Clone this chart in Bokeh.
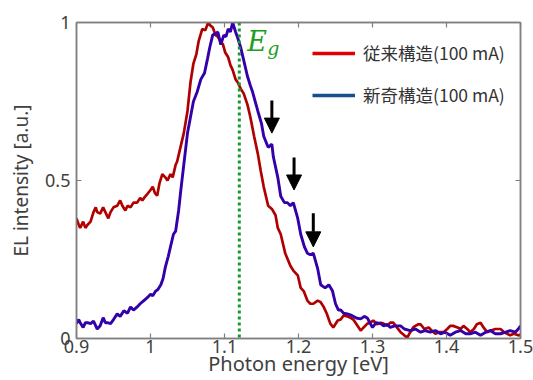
from bokeh.plotting import figure
from bokeh.models import (Range1d, LinearAxis, Span, Label, Arrow, NormalHead,
                          Legend, LegendItem, FixedTicker)
from bokeh.embed import file_html
from bokeh.resources import INLINE

# ---------------- data ----------------
red_energy = [
    0.900, 0.903, 0.905, 0.909, 0.912, 0.915, 0.919, 0.923, 0.926, 0.928,
    0.932, 0.936, 0.939, 0.943, 0.946, 0.950, 0.955, 0.959, 0.962, 0.966,
    0.969, 0.973, 0.977, 0.982, 0.986, 0.989, 0.993, 0.996, 1.000, 1.003,
    1.006, 1.009, 1.012, 1.016, 1.020, 1.023, 1.027, 1.030, 1.034, 1.036,
    1.040, 1.045, 1.050, 1.054, 1.058, 1.062, 1.065, 1.070, 1.074, 1.078,
    1.081, 1.084, 1.088, 1.091, 1.095, 1.098, 1.101, 1.105, 1.108, 1.111,
    1.115, 1.118, 1.122, 1.126, 1.131, 1.135, 1.140, 1.145, 1.149, 1.153,
    1.159, 1.164, 1.169, 1.172, 1.176, 1.182, 1.189, 1.193, 1.199, 1.203,
    1.207, 1.212, 1.216, 1.220, 1.226, 1.230, 1.234, 1.238, 1.243, 1.247,
    1.253, 1.257, 1.261, 1.266, 1.270, 1.274, 1.277, 1.284, 1.288, 1.293,
    1.297, 1.301, 1.306, 1.311, 1.315, 1.320, 1.324, 1.328, 1.333, 1.338,
    1.343, 1.347, 1.351, 1.355, 1.358, 1.362, 1.365, 1.370, 1.376, 1.380,
    1.385, 1.390, 1.396, 1.401, 1.405, 1.409, 1.415, 1.419, 1.423, 1.428,
    1.432, 1.437, 1.441, 1.446, 1.450, 1.455, 1.460, 1.466, 1.473, 1.478,
    1.482, 1.486, 1.491, 1.497, 1.500,
]
red_intensity = [
    0.380, 0.360, 0.350, 0.370, 0.350, 0.360, 0.370, 0.400, 0.415, 0.400,
    0.395, 0.415, 0.400, 0.380, 0.400, 0.415, 0.420, 0.437, 0.420, 0.405,
    0.420, 0.415, 0.430, 0.430, 0.445, 0.437, 0.450, 0.458, 0.470, 0.480,
    0.460, 0.452, 0.490, 0.520, 0.510, 0.500, 0.520, 0.510, 0.550, 0.560,
    0.600, 0.650, 0.720, 0.810, 0.870, 0.900, 0.940, 0.980, 0.975, 1.000,
    0.990, 0.985, 0.960, 0.955, 0.940, 0.930, 0.905, 0.890, 0.865, 0.850,
    0.820, 0.810, 0.790, 0.775, 0.740, 0.700, 0.640, 0.585, 0.530, 0.480,
    0.420, 0.410, 0.390, 0.350, 0.330, 0.270, 0.230, 0.215, 0.200, 0.160,
    0.150, 0.120, 0.110, 0.110, 0.120, 0.115, 0.100, 0.080, 0.047, 0.035,
    0.057, 0.060, 0.073, 0.070, 0.066, 0.060, 0.050, 0.025, 0.035, 0.047,
    0.050, 0.057, 0.045, 0.050, 0.047, 0.040, 0.050, 0.050, 0.035, 0.020,
    0.010, 0.003, 0.020, 0.035, 0.040, 0.045, 0.045, 0.030, 0.035, 0.025,
    0.015, 0.020, 0.020, 0.030, 0.040, 0.040, 0.035, 0.030, 0.040, 0.030,
    0.020, 0.030, 0.045, 0.050, 0.035, 0.020, 0.025, 0.030, 0.030, 0.020,
    0.015, 0.010, 0.015, 0.010, 0.012,
]

blue_energy = [
    0.900, 0.903, 0.905, 0.909, 0.912, 0.915, 0.919, 0.923, 0.926, 0.928,
    0.932, 0.936, 0.939, 0.942, 0.946, 0.950, 0.955, 0.959, 0.964, 0.969,
    0.973, 0.977, 0.982, 0.986, 0.991, 0.996, 1.000, 1.003, 1.007, 1.010,
    1.014, 1.017, 1.020, 1.024, 1.027, 1.031, 1.034, 1.038, 1.041, 1.045,
    1.050, 1.054, 1.058, 1.063, 1.068, 1.073, 1.077, 1.080, 1.084, 1.088,
    1.091, 1.095, 1.099, 1.102, 1.105, 1.108, 1.111, 1.115, 1.118, 1.122,
    1.126, 1.131, 1.135, 1.138, 1.145, 1.150, 1.153, 1.159, 1.164, 1.166,
    1.172, 1.176, 1.181, 1.185, 1.189, 1.193, 1.199, 1.203, 1.208, 1.212,
    1.216, 1.220, 1.226, 1.230, 1.233, 1.236, 1.241, 1.246, 1.250, 1.254,
    1.257, 1.261, 1.266, 1.270, 1.274, 1.278, 1.284, 1.289, 1.293, 1.300,
    1.305, 1.311, 1.315, 1.320, 1.324, 1.330, 1.338, 1.343, 1.351, 1.358,
    1.365, 1.371, 1.378, 1.385, 1.392, 1.398, 1.405, 1.412, 1.419, 1.426,
    1.432, 1.439, 1.446, 1.453, 1.459, 1.466, 1.473, 1.480, 1.486, 1.493,
    1.497, 1.500,
]
blue_intensity = [
    0.047, 0.060, 0.050, 0.035, 0.050, 0.050, 0.047, 0.055, 0.040, 0.030,
    0.040, 0.066, 0.050, 0.050, 0.047, 0.060, 0.078, 0.070, 0.088, 0.080,
    0.100, 0.090, 0.100, 0.110, 0.120, 0.130, 0.140, 0.135, 0.150, 0.155,
    0.170, 0.190, 0.225, 0.260, 0.290, 0.330, 0.340, 0.405, 0.470, 0.550,
    0.650, 0.700, 0.750, 0.780, 0.820, 0.840, 0.885, 0.920, 0.960, 0.965,
    0.970, 0.930, 0.960, 0.955, 0.980, 0.970, 1.000, 0.970, 0.950, 0.920,
    0.880, 0.830, 0.800, 0.780, 0.720, 0.680, 0.640, 0.605, 0.615, 0.575,
    0.510, 0.450, 0.430, 0.430, 0.420, 0.430, 0.380, 0.330, 0.290, 0.270,
    0.265, 0.270, 0.220, 0.170, 0.165, 0.160, 0.170, 0.150, 0.110, 0.090,
    0.090, 0.080, 0.078, 0.075, 0.070, 0.065, 0.062, 0.070, 0.065, 0.035,
    0.050, 0.047, 0.040, 0.045, 0.035, 0.040, 0.040, 0.030, 0.025, 0.030,
    0.020, 0.025, 0.020, 0.025, 0.015, 0.020, 0.010, 0.020, 0.025, 0.015,
    0.015, 0.020, 0.010, 0.020, 0.025, 0.015, 0.015, 0.020, 0.025, 0.020,
    0.030, 0.040,
]

series_labels = ["従来構造(100 mA)", "新奇構造(100 mA)"]
bandgap_energy = 1.12
bandgap_label = ("E", "g")

arrow_x = [1.164, 1.194, 1.220]
arrow_top = [0.753, 0.573, 0.396]
arrow_tip = [0.650, 0.470, 0.290]

x_ticks = [0.9, 1.0, 1.1, 1.2, 1.3, 1.4, 1.5]
x_tick_labels = ["0.9", "1", "1.1", "1.2", "1.3", "1.4", "1.5"]
y_ticks = [0, 0.5, 1]
y_tick_labels = ["0", "0.5", "1"]

# ---------------- figure ----------------
FONT = "Noto Sans"
GRAY = "#808080"
TXT = "#404040"

p = figure(width=533, height=380, output_backend="svg", toolbar_location=None,
           x_range=Range1d(0.9, 1.5), y_range=Range1d(0, 1),
           min_border_left=76, min_border_right=13, min_border_top=22,
           min_border_bottom=42, x_axis_label="Photon energy [eV]",
           y_axis_label="EL intensity [a.u.]")
p.background_fill_color = "white"
p.border_fill_color = "white"
p.outline_line_color = GRAY
p.outline_line_width = 1.5
p.xgrid.visible = False
p.ygrid.visible = False

def style_axis(ax, ticks, labels, show_labels=True):
    ax.ticker = FixedTicker(ticks=ticks)
    ax.major_label_overrides = {t: l for t, l in zip(ticks, labels)}
    ax.major_tick_in = 5
    ax.major_tick_out = 0
    ax.minor_tick_in = 0
    ax.minor_tick_out = 0
    ax.axis_line_color = GRAY
    ax.axis_line_width = 1.5
    ax.major_tick_line_color = GRAY
    ax.major_tick_line_width = 1.2
    ax.major_label_text_font = FONT
    ax.major_label_text_color = TXT
    ax.major_label_text_font_size = "18px"
    ax.axis_label_text_font = FONT
    ax.axis_label_text_color = TXT
    ax.axis_label_text_font_style = "normal"
    ax.axis_label_text_font_size = "19px"
    if not show_labels:
        ax.major_label_text_font_size = "0px"
        ax.major_label_standoff = 0

style_axis(p.xaxis[0], x_ticks, x_tick_labels)
p.xaxis[0].major_label_standoff = 1
p.xaxis[0].axis_label_standoff = -6
p.xaxis[0].axis_label_text_font_size = "20px"
style_axis(p.yaxis[0], y_ticks, y_tick_labels)
p.yaxis[0].major_label_standoff = 6
p.yaxis[0].axis_label_standoff = 8

top_ax = LinearAxis()
style_axis(top_ax, x_ticks, x_tick_labels, show_labels=False)
p.add_layout(top_ax, "above")
right_ax = LinearAxis()
style_axis(right_ax, y_ticks, y_tick_labels, show_labels=False)
p.add_layout(right_ax, "right")

# curves
p.line(red_energy, red_intensity, line_color="#b00000", line_width=2.7)
p.line(blue_energy, blue_intensity, line_color="#3300aa", line_width=2.9)

# bandgap
p.add_layout(Span(location=bandgap_energy, dimension="height",
                  line_color="#109a30", line_width=3, line_dash="3 3"))
p.add_layout(Label(x=bandgap_energy, y=1.0, x_offset=8, y_offset=-3,
                   text=bandgap_label[0], text_font="DejaVu Serif",
                   text_font_style="italic", text_font_size="27px",
                   text_color="#1aa01a", text_baseline="top"))
p.add_layout(Label(x=bandgap_energy, y=1.0, x_offset=28, y_offset=-14,
                   text=bandgap_label[1], text_font="DejaVu Serif",
                   text_font_style="italic", text_font_size="19px",
                   text_color="#1aa01a", text_baseline="top"))

# arrows
for xa, yt, yb in zip(arrow_x, arrow_top, arrow_tip):
    p.add_layout(Arrow(end=NormalHead(size=15, fill_color="black",
                                      line_color="black", line_width=1),
                       x_start=xa, y_start=yt, x_end=xa, y_end=yb,
                       line_color="black", line_width=3))

# legend (proxy glyphs with legend colours, no visible data)
nan = float("nan")
r1 = p.line([nan], [nan], line_color="#e00000", line_width=3.5)
r2 = p.line([nan], [nan], line_color="#1a4f8f", line_width=3.5)
legend = Legend(items=[LegendItem(label=series_labels[0], renderers=[r1]),
                       LegendItem(label=series_labels[1], renderers=[r2])],
                location=(236, 231), orientation="vertical")
legend.background_fill_alpha = 0
legend.border_line_alpha = 0
legend.padding = 0
legend.margin = 0
legend.spacing = 17
legend.glyph_width = 43
legend.glyph_height = 20
legend.label_height = 20
legend.label_standoff = 8
legend.label_text_font = "Noto Sans CJK JP"
legend.label_text_font_size = "17.5px"
legend.label_text_color = "#333333"
p.add_layout(legend, "center")

open("out.html", "w").write(file_html(p, INLINE))
